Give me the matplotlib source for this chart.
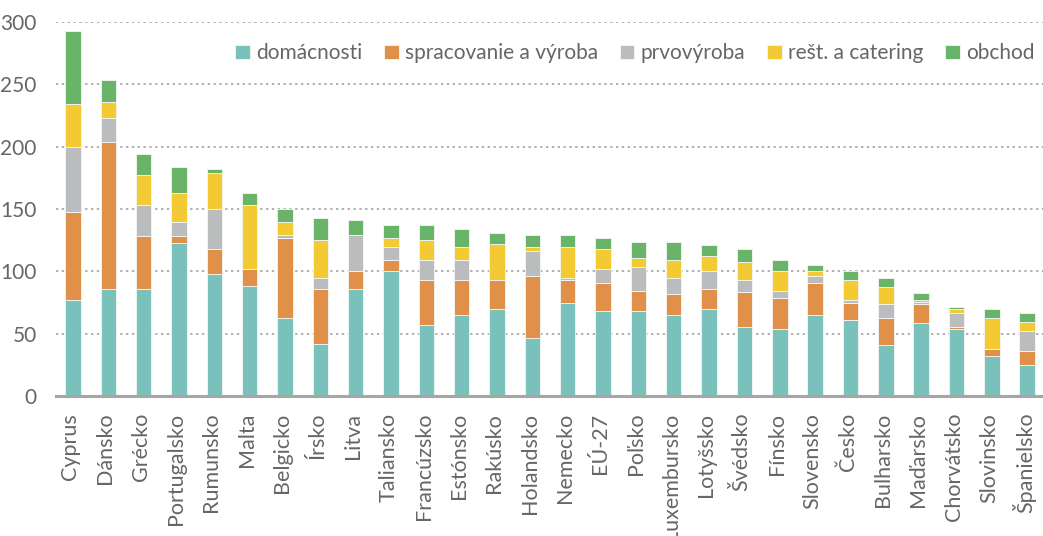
import numpy as np
import matplotlib.pyplot as plt

plt.rcParams['font.family'] = ['Lato', 'DejaVu Sans']

countries = ['Cyprus', 'Dánsko', 'Grécko', 'Portugalsko', 'Rumunsko', 'Malta',
             'Belgicko', 'Írsko', 'Litva', 'Taliansko', 'Francúzsko', 'Estónsko',
             'Rakúsko', 'Holandsko', 'Nemecko', 'EÚ-27', 'Poľsko', 'Luxembursko',
             'Lotyšsko', 'Švédsko', 'Fínsko', 'Slovensko', 'Česko', 'Bulharsko',
             'Maďarsko', 'Chorvátsko', 'Slovinsko', 'Španielsko']

domacnosti = [77, 86, 86, 123, 98, 88, 63, 41.4, 86, 100, 57.4, 64.7, 69.7, 46.8,
              75, 68, 68, 64.7, 69.8, 55.6, 53.7, 64.7, 61, 41.2, 59, 53.7, 32.4, 24.9]
spracovanie = [71, 118, 42.5, 5.5, 20, 14, 64, 44.6, 14, 9, 35.6, 28.3, 23.3, 49.6,
               18, 23, 16, 17.3, 16, 28.1, 25.2, 26.3, 13.9, 21.6, 14.5, 1.9, 5.3, 10.9]
prvovyroba = [52, 19, 25, 11, 32, 0, 2, 9, 29, 10.7, 16, 16, 0, 19.6,
              1.8, 10.8, 19.7, 12.8, 14.2, 9.3, 5.1, 5.5, 2.1, 10.7, 1.6, 10.7, 0, 16.1]
catering = [34, 13, 23.5, 23.5, 29, 51.6, 10.5, 30, 0, 7.3, 16, 10.7, 28.6, 3.7,
            24.9, 16, 7.3, 14.2, 12.6, 14.2, 16, 3.5, 16, 14.2, 1.9, 3.5, 25.1, 7.2]
obchod = [59, 17.5, 17.5, 21, 3, 9.4, 10.5, 18, 12, 10.6, 12.6, 14.3, 8.8, 9.1,
          9.1, 9.2, 12.4, 14.4, 8.8, 10.7, 9, 5.3, 7.5, 7.2, 5.4, 1.9, 7, 7.2]

series = [('domácnosti', domacnosti, '#7bc1bb'),
          ('spracovanie a výroba', spracovanie, '#e09048'),
          ('prvovýroba', prvovyroba, '#bbbcbe'),
          ('rešt. a catering', catering, '#f3ca33'),
          ('obchod', obchod, '#6ab46a')]

fig = plt.figure(figsize=(10.43, 5.36), dpi=100)
ax = fig.add_axes([0.0537, 0.261, 0.9463, 0.698])

x = np.arange(len(countries))
bottom = np.zeros(len(countries))
for name, vals, col in series:
    vals = np.array(vals)
    ax.bar(x, vals, 0.44, bottom=bottom, color=col, label=name,
           edgecolor='#f4f8f4', linewidth=0.6, zorder=3)
    bottom += vals

ax.set_xlim(-0.48, 27.45)
ax.set_ylim(0, 300)
ax.set_yticks(range(0, 301, 50))
ax.yaxis.grid(True, linestyle=(0, (1.2, 1.8)), color='#b0b0b0', linewidth=1.4, zorder=0)
for s in ['top', 'right', 'left']:
    ax.spines[s].set_visible(False)
ax.spines['bottom'].set_color('#a6a6a6')
ax.spines['bottom'].set_linewidth(2.2)
ax.spines['bottom'].set_zorder(4)

ax.set_xticks(x - 0.08)
ax.set_xticklabels(countries, rotation=90, fontsize=15.5, color='#666666')
ax.tick_params(axis='x', length=0, pad=12)
ax.tick_params(axis='y', length=0, pad=14, labelsize=15, labelcolor='#666666')

leg = ax.legend(loc='upper right', bbox_to_anchor=(1.0, 0.965), ncol=5, frameon=False,
                fontsize=15, handlelength=0.7, handleheight=0.7, handletextpad=0.3,
                columnspacing=1.05, labelcolor='#666666', borderaxespad=0)

fig.savefig('out.png', dpi=100)
